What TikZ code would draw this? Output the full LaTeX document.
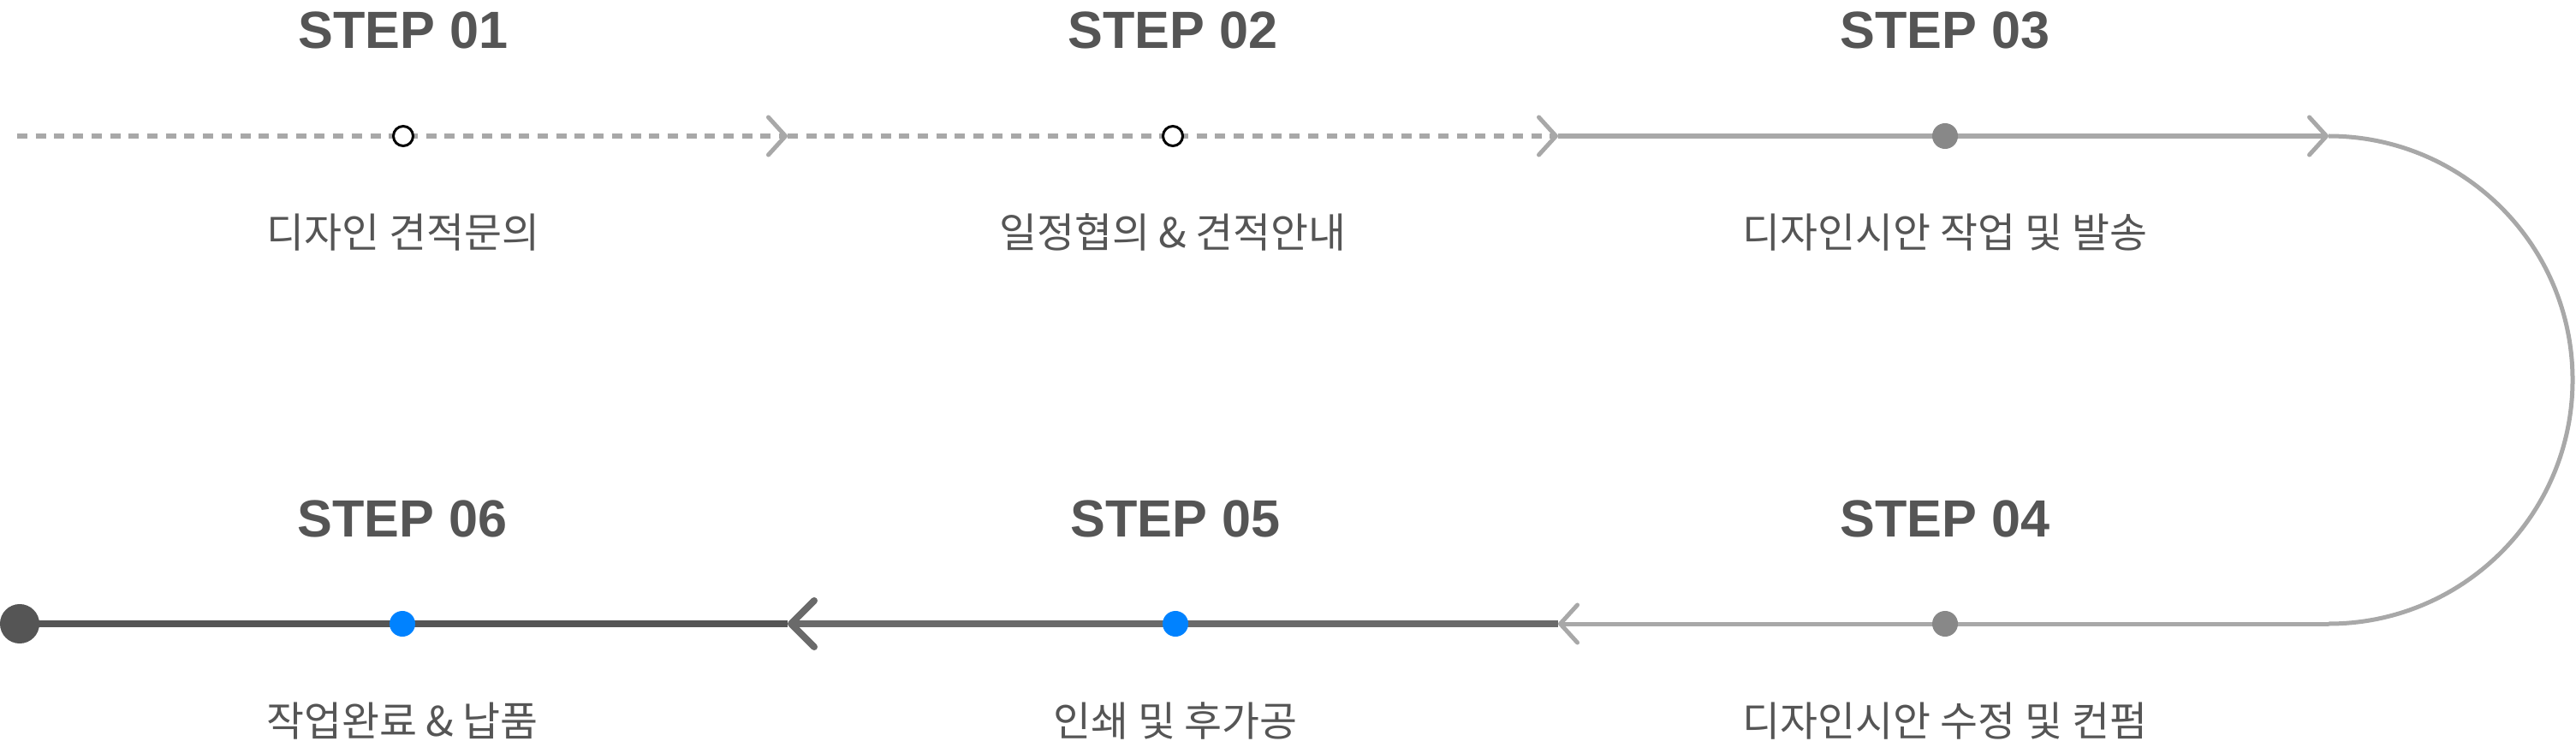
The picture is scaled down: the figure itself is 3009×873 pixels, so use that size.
\documentclass[tikz,border=0pt]{standalone}
\usepackage{fontspec}
\setmainfont{Liberation Sans}
\newfontfamily\krfont{Noto Sans CJK KR}
\usetikzlibrary{arrows.meta}

\definecolor{linegray}{HTML}{A8A8A8}
\definecolor{dotgray}{HTML}{888888}
\definecolor{midgray}{HTML}{6A6A6A}
\definecolor{darkgray}{HTML}{555555}
\definecolor{textgray}{HTML}{555555}
\definecolor{stepblue}{HTML}{0082FF}

\tikzset{
  steptitle/.style={anchor=base, text=textgray, inner sep=0pt,
    font=\bfseries\fontsize{17.4pt}{20pt}\selectfont},
  steplabel/.style={anchor=base, text=textgray, inner sep=0pt,
    font=\krfont\fontsize{13.6pt}{16pt}\selectfont},
  opendot/.style={circle, draw=black, fill=white, line width=0.03cm,
    minimum size=0.23cm, inner sep=0pt},
  graydot/.style={circle, fill=dotgray, minimum size=0.3cm, inner sep=0pt},
  bluedot/.style={circle, fill=stepblue, minimum size=0.3cm, inner sep=0pt},
  enddot/.style={circle, fill=darkgray, minimum size=0.46cm, inner sep=0pt},
  dashline/.style={draw=linegray, line width=0.05cm,
    dash pattern=on 0.12cm off 0.097cm},
  lightline/.style={draw=linegray, line width=0.05cm},
  smallchev/.style={-{Straight Barb[length=0.2cm, width=0.44cm, round]}},
  bigchev/.style={-{Straight Barb[length=0.27cm, width=0.54cm, round]}}
}

\begin{document}
\begin{tikzpicture}[x=0.01cm, y=-0.01cm]

    \useasboundingbox (0,0) rectangle (3009,873);

    % 경로의 꺾이는 점
    \coordinate (start) at (20,159);
    \coordinate (a1) at (920,159);
    \coordinate (a2) at (1820,159);
    \coordinate (a3) at (2720,159);
    \coordinate (b3) at (2720,729);
    \coordinate (b2) at (1820,729);
    \coordinate (b1) at (920,729);

    % 윗줄 (점선, 실선)
    \draw[dashline, smallchev] (start) -- (a1);
    \draw[dashline, smallchev] (a1) -- (a2);
    \draw[lightline, smallchev] (a2) -- (a3);

    % 오른쪽 반원
    \draw[lightline] (a3) arc[start angle=-90, end angle=90, radius=285];

    % 아랫줄
    \draw[lightline, smallchev] (b3) -- (b2);
    \draw[draw=midgray, line width=0.08cm, bigchev] (b2) -- (b1);
    \draw[draw=darkgray, line width=0.08cm] (b1) -- (23,729);

    % 단계 점
    \node[opendot] (dot1) at (471,159) {};
    \node[opendot] (dot2) at (1370,159) {};
    \node[graydot] (dot3) at (2272,159) {};
    \node[graydot] (dot4) at (2272,729) {};
    \node[bluedot] (dot5) at (1373,729) {};
    \node[bluedot] (dot6) at (470,729) {};
    \node[enddot] (end) at (23,729) {};

    % 단계 제목
    \node[steptitle] (t1) at (471,57) {STEP 01};
    \node[steptitle] (t2) at (1370,57) {STEP 02};
    \node[steptitle] (t3) at (2272,57) {STEP 03};
    \node[steptitle] (t4) at (2272,627) {STEP 04};
    \node[steptitle] (t5) at (1373,627) {STEP 05};
    \node[steptitle] (t6) at (470,627) {STEP 06};

    % 단계 설명
    \node[steplabel] (l1) at (471,290) {디자인 견적문의};
    \node[steplabel] (l2) at (1370,290) {일정협의 \& 견적안내};
    \node[steplabel] (l3) at (2272,290) {디자인시안 작업 및 발송};
    \node[steplabel] (l4) at (2272,860) {디자인시안 수정 및 컨펌};
    \node[steplabel] (l5) at (1373,860) {인쇄 및 후가공};
    \node[steplabel] (l6) at (470,860) {작업완료 \& 납품};

\end{tikzpicture}
\end{document}
